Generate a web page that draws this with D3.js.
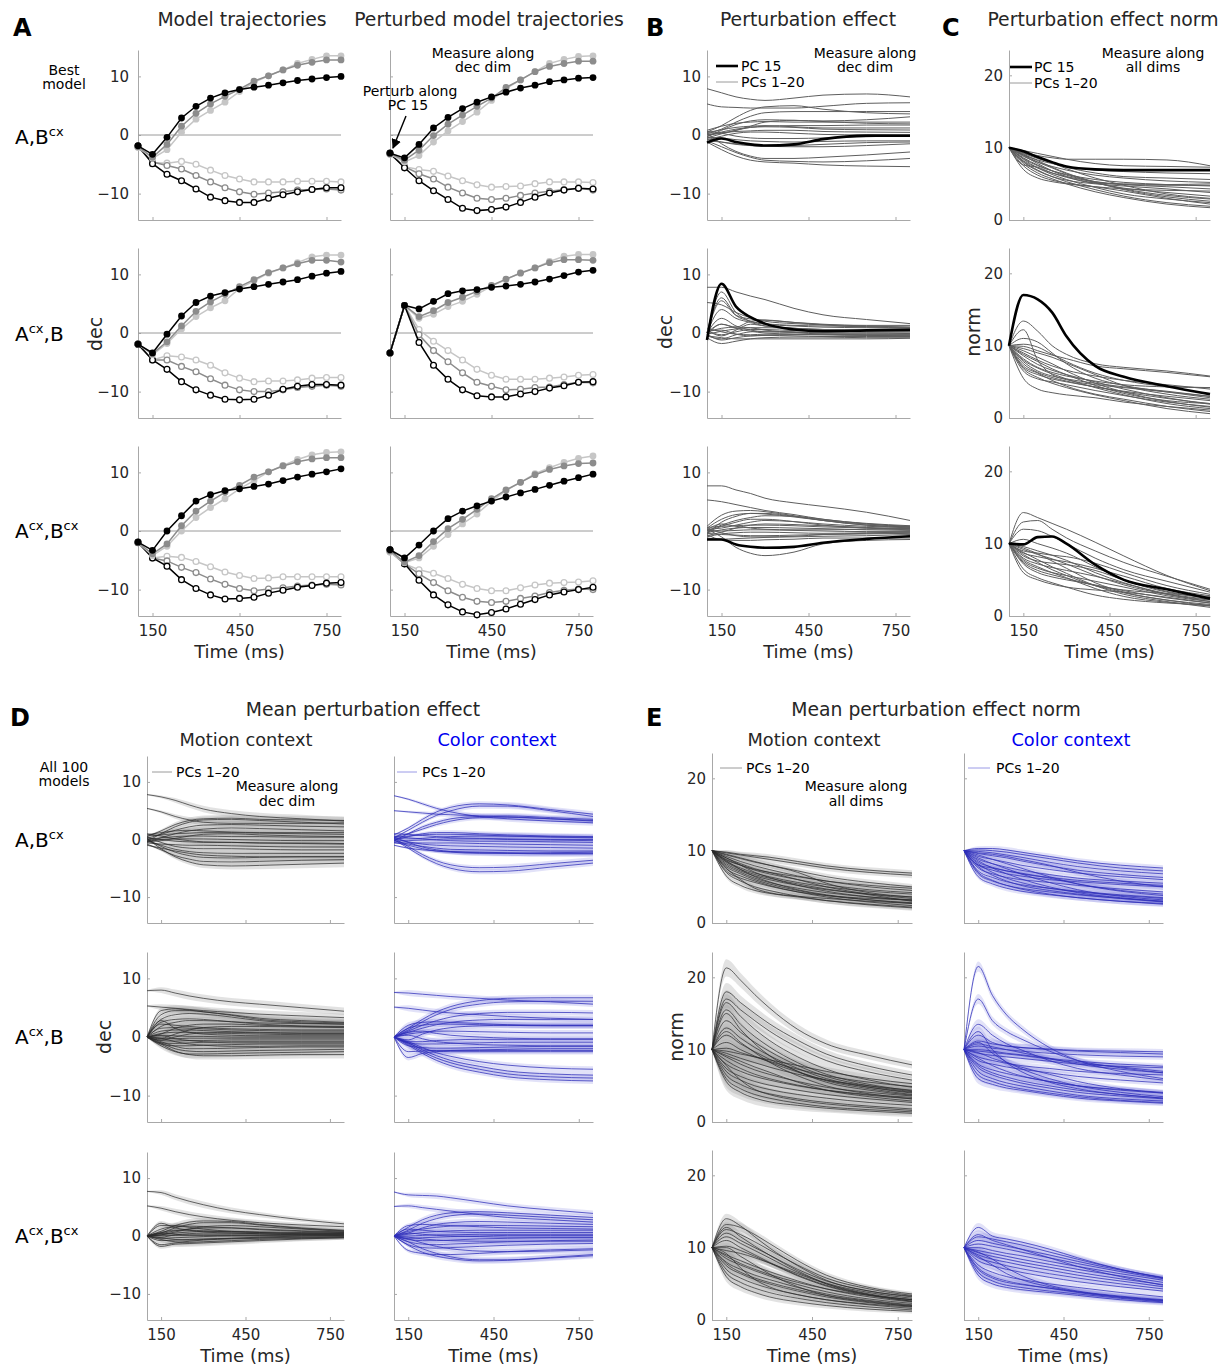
<!DOCTYPE html>
<html>
<head>
<meta charset="utf-8">
<script src="https://cdn.jsdelivr.net/npm/d3@7"></script>
<style>
  body { margin: 0; background: #fff; }
  text { font-family: "DejaVu Sans", sans-serif; }
</style>
</head>
<body>
<script>
// ---------------- data ----------------
const tDots = [100,150,200,250,300,350,400,450,500,550,600,650,700,750,800];
const tEff  = [100,150,200,250,300,400,500,650,800];
const xTicks = [150,450,750];
const decTicks = [-10,0,10];
const normTicks = [0,10,20];
const decRange = [-14.5,14.5];
const normRange = [0,23.5];

// A: order = pos black, pos gray, pos light, neg black, neg gray, neg light
const trajABcx = [
  [-1.85,-3.3,-0.4,2.9,4.9,6.3,7.2,7.75,8.15,8.5,8.9,9.3,9.55,9.8,10.0],
  [-2.0,-3.8,-1.6,1.5,3.7,5.3,6.6,7.8,9.2,10.1,11.1,11.9,12.4,12.8,12.8],
  [-2.1,-4.0,-2.5,0.45,2.7,4.2,5.6,7.4,9.0,10.1,11.1,12.2,12.9,13.5,13.5],
  [-1.85,-4.9,-6.7,-7.8,-9.2,-10.6,-11.2,-11.5,-11.5,-10.8,-10.2,-9.7,-9.3,-9.0,-9.0],
  [-2.0,-4.6,-5.2,-5.8,-6.9,-8.0,-9.0,-9.7,-10.1,-9.9,-9.7,-9.4,-9.3,-9.2,-9.4],
  [-2.1,-4.7,-4.8,-4.5,-5.0,-6.0,-6.9,-7.5,-8.0,-8.0,-8.0,-7.9,-7.9,-7.9,-8.0]
];
const pertABcx = [
  [-3.1,-3.9,-1.6,1.2,3.0,4.5,5.6,6.5,7.3,8.0,8.5,9.1,9.4,9.7,9.8],
  [-3.2,-4.3,-2.6,-0.1,1.85,3.4,4.9,6.3,8.1,9.4,10.8,11.7,12.2,12.6,12.6],
  [-3.3,-4.6,-3.5,-1.2,0.7,2.3,3.9,5.9,7.9,9.4,10.8,12.2,12.9,13.4,13.5],
  [-3.1,-5.6,-7.8,-9.5,-11.0,-12.5,-12.9,-12.7,-12.3,-11.5,-10.6,-9.9,-9.4,-9.1,-9.2],
  [-3.2,-5.4,-6.6,-7.5,-8.9,-9.9,-10.8,-11.0,-10.8,-10.3,-9.9,-9.6,-9.3,-9.1,-9.4],
  [-3.3,-5.4,-5.9,-6.2,-7.0,-7.8,-8.5,-8.9,-8.8,-8.7,-8.3,-8.0,-8.0,-8.0,-8.1]
];
const trajAcxB = [
  [-1.9,-3.4,-0.2,2.9,5.2,6.3,6.9,7.5,7.9,8.3,8.7,9.1,9.7,10.2,10.5],
  [-1.9,-3.5,-1.5,1.2,3.7,5.3,6.6,7.9,9.1,10.3,11.1,11.8,12.4,12.4,12.1],
  [-1.9,-3.7,-1.8,0.7,2.8,4.3,5.5,7.6,8.9,10.2,11.1,12.0,13.0,13.3,13.3],
  [-1.9,-4.6,-6.2,-8.3,-9.7,-10.6,-11.3,-11.4,-11.3,-10.6,-9.6,-9.1,-8.8,-8.8,-8.9],
  [-1.9,-4.6,-4.6,-5.7,-6.6,-7.8,-8.9,-9.7,-10.0,-10.0,-9.7,-9.3,-9.1,-8.9,-9.1],
  [-1.9,-4.6,-3.9,-4.1,-4.6,-5.5,-6.8,-7.7,-8.3,-8.2,-8.2,-8.0,-7.7,-7.6,-7.6]
];
const pertAcxB = [
  [-3.4,4.7,4.1,5.4,6.7,7.2,7.4,7.8,8.0,8.3,8.7,9.2,9.8,10.4,10.7],
  [-3.4,4.7,2.8,3.8,5.2,6.1,7.1,8.1,9.2,10.2,11.1,12.0,12.5,12.5,12.4],
  [-3.4,4.7,2.5,3.2,4.5,5.4,6.6,8.0,9.1,10.3,11.1,12.2,13.1,13.4,13.4],
  [-3.4,4.7,-1.6,-5.5,-7.9,-9.7,-10.7,-10.9,-10.9,-10.4,-10.0,-9.4,-9.0,-8.4,-8.3],
  [-3.4,4.7,-0.3,-3.0,-4.9,-6.8,-8.4,-9.1,-9.7,-9.6,-9.3,-9.2,-8.8,-8.4,-8.5],
  [-3.4,4.7,0.6,-1.4,-3.0,-4.6,-6.2,-7.2,-7.9,-7.9,-7.9,-7.7,-7.5,-7.2,-7.1]
];
const trajAcxBcx = [
  [-1.9,-3.3,0,2.6,5.1,6.2,6.9,7.2,7.6,8.0,8.6,9.2,9.7,10.1,10.6],
  [-2.0,-3.9,-2.2,0.9,3.4,5.1,6.6,7.8,9.2,10.1,11.1,11.8,12.3,12.5,12.5],
  [-2.0,-4.2,-2.6,0,2.3,4.0,5.5,7.2,8.6,10.1,11.2,12.2,13.0,13.4,13.5],
  [-1.9,-4.6,-6.0,-8.3,-9.8,-10.9,-11.6,-11.5,-11.3,-10.6,-10.1,-9.6,-9.3,-8.9,-8.8],
  [-2.0,-4.6,-5.1,-6.2,-7.1,-8.2,-9.1,-9.8,-10.2,-9.9,-9.7,-9.4,-9.2,-9.1,-9.2],
  [-2.0,-4.6,-4.3,-4.5,-5.2,-6.1,-7.0,-7.6,-8.1,-8.0,-7.8,-7.8,-7.8,-7.8,-7.8]
];
const pertAcxBcx = [
  [-3.2,-4.6,-2.4,0,2.1,3.4,4.3,5.1,5.8,6.5,7.1,7.8,8.5,9.1,9.7],
  [-3.4,-5.3,-4.2,-1.8,0.4,2.0,3.7,5.5,7.0,8.3,9.6,10.5,11.1,11.5,11.6],
  [-3.6,-5.4,-4.6,-2.6,-0.6,1.2,2.9,5.1,6.9,8.3,9.8,10.8,11.7,12.4,12.8],
  [-3.2,-5.6,-8.4,-10.9,-12.6,-13.8,-14.3,-13.9,-13.3,-12.5,-11.7,-10.9,-10.4,-10.0,-9.6],
  [-3.4,-5.6,-7.3,-8.8,-10.2,-11.3,-12.0,-12.2,-12.0,-11.5,-11.1,-10.5,-10.1,-9.9,-10.0],
  [-3.6,-5.6,-6.6,-7.2,-8.1,-9.1,-9.8,-10.2,-10.2,-9.7,-9.2,-8.9,-8.8,-8.7,-8.5]
];

// B: perturbation effect along dec dim (thin = other PCs, bold = PC 15), at tEff
const pc15DecABcx = [-1.3,-0.6,-1.2,-1.6,-1.8,-1.6,-0.7,-0.1,-0.1];
const effDecABcx = [
  [7.9,7.2,6.5,6.1,5.9,6.3,6.8,7.0,6.5],[5.3,4.8,4.7,4.6,4.6,4.6,4.9,5.4,5.5],
  [0.5,1.6,3.0,4.2,4.8,5.0,4.4,3.8,3.6],[0.2,1.0,2.2,3.2,3.8,4.0,4.0,4.0,4.0],
  [-0.3,0.8,1.8,2.4,2.6,2.5,2.4,2.6,3.1],[0.8,1.5,2.0,2.2,2.3,2.2,2.2,2.2,2.2],
  [-0.5,0.2,0.8,1.3,1.5,1.6,1.6,1.7,1.7],[0.4,0.9,1.3,1.5,1.6,1.4,1.2,1.2,1.2],
  [-0.2,0.5,1.0,1.3,1.4,1.3,1.0,0.9,0.85],[0.1,0.4,0.6,0.7,0.8,0.8,0.6,0.5,0.45],
  [-0.8,-0.2,0.3,0.5,0.5,0.3,0.1,0,-0.1],[0.6,0.3,-0.2,-0.5,-0.6,-0.6,-0.5,-0.3,-0.1],
  [-0.4,-0.5,-0.8,-1.0,-1.1,-1.2,-1.1,-1.0,-1.0],[-1.0,-1.2,-1.5,-1.8,-1.9,-1.8,-1.6,-1.3,-1.2],
  [-0.6,-1.2,-1.6,-1.8,-1.9,-2.0,-2.0,-1.8,-1.5],[0.3,-1.5,-2.8,-3.6,-4.0,-4.0,-3.8,-3.4,-2.9],
  [-1.0,-2.0,-3.0,-3.8,-4.3,-4.5,-4.6,-4.4,-4.0],[-1.2,-2.5,-3.6,-4.3,-4.6,-4.8,-5.1,-5.3,-5.4],
  [0.0,0.3,0.8,1.5,2.2,2.5,2.3,2.0,1.9]
];
const pc15DecAcxB = [-1.2,8.4,4.5,2.7,1.6,0.6,0.3,0.45,0.55];
const effDecAcxB = [
  [7.8,7.8,7.0,6.3,5.7,4.2,3.1,2.3,1.6],[5.2,4.8,3.5,2.6,2.0,1.6,1.4,1.3,1.3],
  [0,7.0,3.5,2.0,1.5,1.2,1.0,0.9,0.8],[0,6.0,3.0,2.0,1.6,1.3,1.2,1.1,1.0],
  [0,5.5,3.0,2.4,2.2,1.8,1.5,1.2,1.0],[0,4.0,2.5,1.8,1.2,0.8,0.6,0.5,0.4],
  [0,2.5,1.2,0.5,0.2,0.1,0,0,0],[-0.3,1.5,1.0,2.0,2.2,1.8,1.4,1.0,0.9],
  [0.5,-0.5,0.5,1.5,1.2,0.8,0.5,0.4,0.3],[-0.5,-1.0,-0.3,0.2,0.3,0.2,0,0,-0.1],
  [0.3,0.5,-0.2,-0.5,-0.4,-0.3,-0.3,-0.3,-0.3],[-0.8,-1.8,-1.4,-1.0,-0.8,-0.7,-0.7,-0.8,-0.8],
  [-0.2,-1.2,-0.8,-0.5,-0.4,-0.5,-0.6,-0.6,-0.6],[0.8,0.2,-0.2,-0.3,-0.2,-0.2,-0.2,-0.2,-0.2],
  [-0.5,-0.8,-1.0,-1.0,-1.0,-1.0,-1.0,-1.0,-0.9],[0.2,0.8,1.0,0.9,0.5,0.1,-0.2,-0.4,-0.5],
  [0,1.5,0.8,0.3,0,-0.2,-0.3,-0.4,-0.4],[-0.2,0.3,0.7,0.9,0.9,0.8,0.6,0.4,0.3],
  [0.4,-0.3,0.2,0.6,0.6,0.4,0.3,0.2,0.2]
];
const pc15DecAcxBcx = [-1.45,-1.45,-2.3,-2.7,-2.85,-2.7,-2.0,-1.35,-0.9];
const effDecAcxBcx = [
  [7.7,7.7,7.0,6.4,5.6,4.8,4.2,3.2,1.8],[5.3,5.0,4.5,4.0,3.5,2.8,2.0,1.3,0.9],
  [0.3,-1.0,-2.8,-3.8,-4.2,-3.6,-2.2,-1.6,-1.45],[0.8,2.7,3.4,3.5,3.3,2.6,1.8,1.0,0.7],
  [0.5,2.0,2.8,3.0,2.9,2.4,1.8,1.2,0.8],[-0.5,1.5,2.5,3.0,3.0,2.5,1.8,1.0,0.5],
  [0,1.0,1.8,2.3,2.6,2.5,2.0,1.2,0.7],[0.3,0.5,1.0,1.5,1.8,1.6,1.2,0.8,0.6],
  [-0.8,-0.2,0.5,1.0,1.2,1.1,0.9,0.6,0.4],[0.6,0.8,0.9,1.0,1.0,0.9,0.7,0.5,0.3],
  [-0.3,0.2,0.5,0.6,0.6,0.5,0.4,0.2,0.1],[0.1,0,0.1,0.2,0.2,0.1,0,-0.1,-0.1],
  [-1.0,-0.5,-0.3,-0.2,-0.2,-0.3,-0.4,-0.3,-0.2],[-0.4,-0.6,-0.7,-0.8,-0.8,-0.7,-0.6,-0.5,-0.4],
  [-1.2,-1.4,-1.3,-1.2,-1.1,-1.0,-0.9,-0.8,-0.6],[0.4,-0.3,-0.8,-1.0,-1.0,-0.9,-0.6,-0.4,-0.3],
  [-0.6,-1.5,-1.6,-1.6,-1.5,-1.4,-1.2,-1.2,-1.2],[0.2,1.2,0.8,0.5,0.3,0.2,0.2,0.3,0.4],
  [-0.2,0.8,1.5,2.0,2.0,1.6,1.0,0.5,0.2]
];

// C: perturbation effect norm, at tEff
const pc15NormABcx = [10,9.5,8.7,8.0,7.4,7.0,6.9,6.9,6.9];
const effNormABcx = [
  [10,9.4,8.9,8.6,8.4,8.4,8.4,8.3,7.5],[10,9.6,9.2,8.8,8.4,7.8,7.5,7.4,7.3],
  [10,9.0,8.3,7.8,7.4,6.9,6.7,6.5,6.4],[10,9.2,8.5,7.9,7.3,6.5,6.0,5.8,5.6],
  [10,8.8,8.0,7.4,6.9,6.2,5.8,5.4,5.2],[10,8.5,7.5,6.8,6.3,5.6,5.2,4.9,4.7],
  [10,8.2,7.2,6.5,6.0,5.3,4.9,4.6,4.3],[10,8.0,6.8,6.0,5.5,5.0,4.7,4.3,3.8],
  [10,7.6,7.3,6.5,5.9,5.1,4.4,3.8,3.3],[10,8.6,7.6,6.8,6.2,5.2,4.3,3.4,2.9],
  [10,9.0,8.0,7.2,6.4,5.2,4.2,3.2,2.6],[10,8.4,7.2,6.3,5.6,4.5,3.6,2.9,2.4],
  [10,7.5,6.2,5.5,5.1,4.6,4.0,3.0,2.2],[10,8.1,6.9,6.0,5.3,4.2,3.3,2.4,1.9],
  [10,7.8,6.5,5.7,5.0,3.9,3.1,2.2,1.7],[10,9.1,8.2,7.3,6.5,5.3,4.9,4.8,4.8],
  [10,8.9,7.8,6.8,6.0,5.1,5.0,4.9,5.0],[10,7.0,5.8,5.3,5.0,4.6,4.3,4.1,4.0],
  [10,9.3,8.6,7.9,7.1,5.8,4.8,3.6,3.0]
];
const pc15NormAcxB = [10,17.0,16.4,14.6,11.3,7.2,5.7,4.4,3.3];
const effNormAcxB = [
  [10,13.4,12.0,10.0,8.8,7.5,7.0,6.5,5.8],[10,12.2,8.0,6.0,5.3,4.6,4.2,3.6,3.0],
  [10,11.0,10.5,9.0,7.5,5.5,4.5,3.6,2.8],[10,9.9,9.3,8.7,8.2,7.2,6.8,6.3,5.7],
  [10,9.0,8.0,7.2,6.6,5.8,5.2,4.6,4.0],[10,8.2,7.0,6.3,5.8,5.1,4.6,4.3,4.2],
  [10,7.8,6.5,5.8,5.4,4.8,4.3,3.7,3.0],[10,7.5,6.3,5.6,5.1,4.3,3.7,3.0,2.4],
  [10,7.0,6.0,5.4,5.0,4.3,3.6,2.7,2.0],[10,6.5,5.4,5.0,4.6,3.8,3.1,2.2,1.6],
  [10,5.5,4.0,3.5,3.2,2.8,2.2,1.6,1.1],[10,8.6,7.4,6.6,6.0,5.0,4.0,2.8,1.9],
  [10,8.0,6.9,6.1,5.4,4.2,3.2,2.0,1.3],[10,9.3,8.4,7.5,6.5,4.8,3.6,2.3,1.5],
  [10,7.2,6.2,5.2,4.4,3.3,2.6,1.6,0.9],[10,6.8,5.6,4.8,4.2,3.2,2.4,1.3,0.6],
  [10,8.8,7.8,6.8,6.0,4.5,3.4,2.4,2.0],[10,9.6,9.0,8.4,7.6,6.0,4.5,3.3,2.6],
  [10,10.2,9.8,8.8,7.8,6.2,5.2,4.4,4.2]
];
const pc15NormAcxBcx = [10,9.9,10.9,11.0,10.0,7.1,5.0,3.7,2.4];
const effNormAcxBcx = [
  [10,14.3,13.6,12.8,12.0,10.2,8.3,5.6,3.5],[10,13.0,13.2,12.0,10.8,9.0,7.4,5.5,3.7],
  [10,12.0,11.8,11.0,10.0,8.0,6.4,4.8,3.3],[10,9.0,8.7,8.4,8.2,7.3,6.0,4.2,3.0],
  [10,8.7,8.2,7.8,7.5,6.6,5.5,3.8,2.8],[10,8.3,7.6,7.3,7.1,6.3,5.0,3.4,2.5],
  [10,8.0,7.2,6.7,6.3,5.5,4.5,3.0,2.2],[10,7.6,6.6,6.0,5.6,4.8,4.0,2.8,2.0],
  [10,7.2,6.0,5.4,5.0,4.3,3.5,2.5,1.8],[10,6.0,5.0,4.4,4.0,3.6,3.3,2.6,1.8],
  [10,6.5,5.3,4.6,4.0,2.9,2.3,1.8,1.5],[10,7.8,6.8,6.0,5.3,3.8,2.7,1.9,1.4],
  [10,8.8,7.8,6.8,5.9,4.2,3.0,2.0,1.2],[10,9.4,8.6,7.6,6.6,4.6,3.3,2.2,1.4],
  [10,9.6,9.0,8.4,7.7,6.0,4.6,3.1,2.3],[10,9.2,8.5,7.9,7.2,5.6,4.3,3.0,2.0],
  [10,8.5,7.4,6.4,5.6,4.2,3.6,3.1,2.7],[10,7.4,6.3,5.7,5.2,4.2,3.2,2.2,1.6],
  [10,10.6,10.0,9.4,8.7,6.8,5.0,3.3,2.5]
];

// D: mean perturbation effect (all 100 models), dec dim, with band half-widths
const meanDecMotion1 = [
  [7.8,7.4,6.8,6.0,5.3,4.5,4.0,3.6,3.2],[5.4,4.8,4.0,3.4,3.0,2.8,2.8,2.8,2.9],
  [0.5,1.5,2.6,3.3,3.6,3.7,3.5,3.4,3.3],[-0.3,1.0,2.2,3.0,3.4,3.5,3.3,3.0,2.7],
  [0.2,0.9,1.6,2.2,2.5,2.6,2.5,2.3,2.2],[-0.5,0.3,1.0,1.5,1.8,2.0,1.9,1.7,1.5],
  [0.6,0.8,1.0,1.1,1.2,1.2,1.1,1.0,0.9],[0,0.3,0.5,0.6,0.6,0.5,0.5,0.4,0.4],
  [-0.2,0,0.1,0.1,0.1,0,-0.1,-0.2,-0.2],[0.3,0,-0.3,-0.4,-0.5,-0.5,-0.6,-0.6,-0.7],
  [-0.6,-0.8,-0.9,-1.0,-1.0,-1.1,-1.2,-1.3,-1.3],[0.4,-0.5,-1.2,-1.5,-1.6,-1.6,-1.7,-1.8,-1.8],
  [-0.3,-1.0,-1.7,-2.1,-2.3,-2.4,-2.4,-2.4,-2.4],[0.1,-1.2,-2.2,-2.8,-3.1,-3.2,-3.1,-3.0,-3.0],
  [-0.8,-1.8,-2.8,-3.4,-3.8,-3.9,-3.8,-3.6,-3.5],[0.2,-1.6,-3.0,-3.9,-4.4,-4.6,-4.5,-4.3,-4.1],
  [-1.0,-1.5,-2.0,-2.4,-2.7,-2.9,-3.0,-3.0,-3.0],[0.8,1.2,1.5,1.6,1.5,1.3,1.2,1.2,1.2],
  [-0.4,-0.2,0.2,0.6,0.9,1.0,0.8,0.6,0.5],[1.0,0.6,0.1,-0.2,-0.4,-0.5,-0.6,-0.7,-0.8]
];
const bandDecMotion1 = [0.1,0.25,0.4,0.5,0.55,0.6,0.65,0.7,0.7];
const meanDecColor1 = [
  [7.6,7.0,6.2,5.4,4.8,4.0,3.6,3.2,2.9],[5.0,4.8,4.6,4.4,4.3,4.1,3.9,3.6,3.3],
  [0.8,2.0,3.5,4.8,5.6,6.2,6.0,5.2,4.4],[0.3,1.6,3.0,4.2,5.0,5.8,5.8,5.0,4.0],
  [-0.2,1.0,2.2,3.0,3.6,4.0,4.1,3.8,3.5],[0.5,1.0,1.8,2.6,3.2,3.8,3.9,3.6,3.2],
  [0.2,0.1,0.2,0.4,0.5,0.6,0.6,0.5,0.4],[-0.3,-0.2,-0.1,0,0.1,0.1,0,-0.1,-0.2],
  [0.6,0.3,0.1,-0.1,-0.2,-0.3,-0.3,-0.4,-0.5],[-0.6,-0.6,-0.6,-0.6,-0.6,-0.7,-0.8,-0.9,-1.0],
  [0.1,-0.4,-0.8,-1.0,-1.1,-1.2,-1.3,-1.4,-1.5],[-0.2,-0.8,-1.2,-1.5,-1.7,-1.8,-1.9,-2.0,-2.0],
  [0.4,-0.5,-1.3,-1.8,-2.1,-2.3,-2.4,-2.5,-2.5],[-1.0,-1.5,-1.8,-2.0,-2.1,-2.2,-2.3,-2.4,-2.4],
  [0.3,0.6,0.8,0.9,0.9,0.8,0.6,0.4,0.3],[0,-1.5,-3.0,-4.2,-5.0,-5.6,-5.5,-4.8,-4.1],
  [0.2,-1.2,-2.6,-3.7,-4.4,-4.9,-4.8,-4.2,-3.6],[-0.5,-1.0,-1.6,-2.0,-2.2,-2.4,-2.4,-2.3,-2.2],
  [1.0,0.9,0.7,0.5,0.3,0.2,0.1,0,0],[-0.1,0.5,1.0,1.2,1.2,1.0,0.8,0.6,0.5]
];
const bandDecColor1 = [0.1,0.2,0.3,0.35,0.4,0.45,0.5,0.5,0.5];
const meanDecMotion2 = [
  [7.9,8.0,7.5,7.0,6.6,6.0,5.6,5.0,4.4],[5.3,5.1,4.9,4.7,4.5,4.2,3.9,3.6,3.3],
  [0,4.5,4.8,4.6,4.3,3.8,3.2,2.8,2.5],[0,3.8,4.5,4.5,4.3,3.7,3.0,2.6,2.4],
  [0,3.0,3.8,4.0,3.9,3.4,2.8,2.4,2.2],[0,2.5,3.0,3.1,3.0,2.6,2.2,1.9,1.8],
  [0,1.8,2.5,2.8,2.8,2.6,2.4,2.3,2.2],[0,2.2,2.0,1.8,1.6,1.4,1.3,1.2,1.2],
  [0,1.5,1.6,1.5,1.4,1.2,1.1,1.0,1.0],[0,1.0,1.2,1.2,1.1,0.9,0.8,0.7,0.7],
  [0,0.6,0.8,0.8,0.7,0.6,0.5,0.4,0.4],[0,0.3,0.2,0.1,0.1,0,0,0,0],
  [0,-0.3,-0.3,-0.2,-0.2,-0.2,-0.2,-0.2,-0.2],[0,-0.6,-0.7,-0.6,-0.6,-0.5,-0.5,-0.5,-0.5],
  [0,-1.0,-1.1,-1.0,-0.9,-0.8,-0.8,-0.8,-0.8],[0,-1.2,-1.5,-1.5,-1.4,-1.3,-1.2,-1.2,-1.2],
  [0,-0.8,-1.6,-2.0,-2.0,-1.9,-1.8,-1.7,-1.7],[0,-1.0,-2.0,-2.4,-2.5,-2.4,-2.3,-2.2,-2.1],
  [0,-1.2,-2.4,-3.0,-3.2,-3.2,-3.1,-3.0,-3.0],[0,-1.5,-2.5,-2.9,-2.9,-2.8,-2.7,-2.6,-2.5],
  [0,2.8,1.5,0.8,0.5,0.3,0.2,0.2,0.2],[0,-0.2,0.5,1.2,1.6,1.8,1.8,1.7,1.6],
  [0,0.5,1.5,2.0,2.2,2.2,2.0,1.8,1.7],[0,-0.5,0,0.5,0.7,0.8,0.7,0.6,0.6],
  [0,0.2,-0.3,-0.6,-0.8,-1.0,-1.0,-1.0,-1.0],[0,-0.2,-0.8,-1.2,-1.4,-1.6,-1.6,-1.5,-1.5]
];
const bandDecMotion2 = [0.1,0.5,0.6,0.65,0.65,0.65,0.65,0.65,0.65];
const meanDecColor2 = [
  [7.6,7.5,7.3,7.1,6.9,6.6,6.3,6.0,5.6],[0,1.5,3.0,4.3,5.2,6.2,6.6,6.7,6.7],
  [5.1,4.9,4.6,4.3,4.1,3.8,3.5,3.2,3.0],[0,1.2,2.6,3.8,4.7,5.6,6.0,6.1,6.1],
  [0,1.0,2.0,2.8,3.4,4.0,4.2,4.2,4.1],[0,0.8,1.5,2.1,2.5,2.9,3.0,3.0,3.0],
  [0,2.0,2.5,2.6,2.5,2.3,2.1,2.0,2.0],[0,1.5,2.0,2.2,2.2,2.1,2.0,1.9,1.9],
  [0,-0.5,0.5,1.2,1.6,1.9,2.0,2.0,2.0],[0,0.5,0.8,1.0,1.0,0.9,0.8,0.7,0.7],
  [0,-0.8,-0.8,-0.6,-0.5,-0.4,-0.4,-0.4,-0.4],[0,-1.0,-1.2,-1.2,-1.1,-1.0,-0.9,-0.9,-0.9],
  [0,-1.5,-1.8,-1.9,-1.9,-1.8,-1.7,-1.6,-1.6],[0,-2.5,-2.4,-2.3,-2.3,-2.3,-2.3,-2.3,-2.3],
  [0,-1.0,-2.0,-2.4,-2.5,-2.5,-2.5,-2.5,-2.5],[0,-3.5,-2.8,-2.5,-2.3,-2.2,-2.1,-2.0,-2.0],
  [0,-1.0,-2.2,-3.2,-4.0,-5.0,-5.8,-6.3,-6.5],[0,-1.2,-2.5,-3.6,-4.4,-5.5,-6.3,-6.8,-7.0],
  [0,-1.4,-2.8,-4.0,-4.9,-6.0,-6.8,-7.3,-7.5],[0,-0.8,-1.8,-2.7,-3.3,-4.2,-4.8,-5.3,-5.5],
  [0,0.3,-0.3,-0.8,-1.0,-1.3,-1.4,-1.5,-1.5],[0,0.8,1.0,0.6,0.3,0,-0.2,-0.3,-0.3]
];
const bandDecColor2 = [0.1,0.5,0.5,0.5,0.5,0.5,0.5,0.5,0.5];
const meanDecMotion3 = [
  [7.7,7.5,6.7,6.0,5.4,4.4,3.7,2.8,2.1],[5.2,4.8,4.2,3.7,3.3,2.7,2.3,1.9,1.6],
  [0,0.8,1.8,2.4,2.6,2.5,2.0,1.4,1.0],[0,0.5,1.4,2.0,2.3,2.3,1.9,1.3,0.9],
  [0,1.2,1.6,1.7,1.6,1.4,1.1,0.8,0.6],[0,0.4,0.9,1.2,1.4,1.4,1.2,0.9,0.7],
  [0,0.2,0.5,0.7,0.8,0.8,0.7,0.6,0.5],[0,-0.2,0.2,0.4,0.5,0.5,0.4,0.3,0.3],
  [0,0.1,0.1,0.1,0.1,0.1,0.1,0.1,0.1],[0,-0.4,-0.3,-0.2,-0.1,0,0,0,0],
  [0,-0.8,-0.7,-0.6,-0.5,-0.4,-0.3,-0.2,-0.1],[0,-1.5,-1.2,-0.9,-0.7,-0.5,-0.4,-0.3,-0.2],
  [0,-1.8,-1.4,-1.3,-1.2,-1.0,-0.8,-0.5,-0.3],[0,-0.6,-1.0,-1.1,-1.0,-0.8,-0.6,-0.4,-0.3],
  [0,0.6,1.0,1.0,0.9,0.7,0.6,0.5,0.5],[0,1.8,1.8,1.5,1.2,0.8,0.6,0.4,0.4],
  [0,0.2,0.7,1.2,1.6,1.8,1.6,1.2,0.8],[0,-0.3,-0.6,-0.7,-0.6,-0.4,-0.2,0,0.1],
  [0,2.2,1.4,1.0,0.7,0.5,0.4,0.3,0.3],[0,0.5,0.3,0.2,0.2,0.2,0.2,0.3,0.3]
];
const bandDecMotion3 = [0.1,0.4,0.5,0.55,0.55,0.5,0.45,0.4,0.35];
const meanDecColor3 = [
  [7.6,7.1,7.0,6.9,6.6,5.9,5.2,4.5,3.9],[5.1,5.2,4.9,4.6,4.3,3.7,3.2,2.8,2.4],
  [0,1.5,2.8,3.6,4.0,4.2,4.0,3.6,3.2],[0,1.0,2.2,3.0,3.5,3.8,3.6,3.2,2.8],
  [0,0.5,1.4,2.0,2.3,2.5,2.4,2.2,2.0],[0,0.8,1.2,1.5,1.7,1.8,1.8,1.7,1.6],
  [0,1.8,2.0,1.9,1.8,1.6,1.4,1.3,1.2],[0,0.3,0.6,0.8,0.9,1.0,1.0,1.0,1.0],
  [0,0,0.1,0.2,0.2,0.3,0.3,0.3,0.3],[0,-0.4,-0.3,-0.2,-0.1,0,0.1,0.1,0.1],
  [0,-0.6,-0.8,-0.8,-0.7,-0.5,-0.4,-0.3,-0.3],[0,-1.0,-1.4,-1.5,-1.4,-1.2,-1.0,-0.8,-0.7],
  [0,-1.5,-2.0,-2.1,-2.0,-1.8,-1.6,-1.4,-1.3],[0,-1.0,-2.2,-3.0,-3.6,-4.1,-4.1,-3.7,-3.2],
  [0,-1.6,-2.8,-3.5,-3.9,-4.3,-4.2,-3.8,-3.4],[0,-2.5,-3.0,-3.2,-3.2,-3.0,-2.7,-2.4,-2.2],
  [0,-0.5,-1.2,-1.8,-2.2,-2.6,-2.7,-2.6,-2.4],[0,0.5,0.3,0.1,0,-0.1,-0.2,-0.2,-0.2],
  [0,1.2,1.0,0.8,0.7,0.6,0.6,0.6,0.6],[0,-0.2,-0.5,-0.7,-0.8,-0.9,-0.9,-0.9,-0.9]
];
const bandDecColor3 = [0.1,0.35,0.45,0.5,0.5,0.5,0.5,0.5,0.5];

// E: mean perturbation effect norm (all dims)
const meanNormMotion1 = [
  [10,9.8,9.5,9.3,9.1,8.5,7.9,7.3,6.9],[10,9.7,9.4,9.1,8.8,8.2,7.6,7.0,6.6],
  [10,9.4,8.9,8.4,8.0,7.2,6.4,5.6,5.0],[10,9.2,8.5,7.9,7.4,6.5,5.8,5.0,4.5],
  [10,8.8,8.0,7.3,6.8,6.0,5.3,4.6,4.2],[10,8.5,7.6,6.9,6.4,5.6,5.0,4.4,4.0],
  [10,8.2,7.2,6.5,6.0,5.2,4.6,4.0,3.6],[10,8.0,7.0,6.2,5.6,4.8,4.2,3.6,3.2],
  [10,7.8,6.8,6.0,5.4,4.5,3.8,3.2,2.8],[10,7.5,6.5,5.8,5.2,4.3,3.6,2.9,2.4],
  [10,7.0,5.8,5.0,4.5,3.7,3.1,2.5,2.1],[10,6.5,5.2,4.5,4.1,3.6,3.1,2.6,2.2],
  [10,7.6,6.0,4.8,4.2,3.7,3.4,3.0,2.7],[10,9.0,8.2,7.5,7.0,6.0,5.0,4.0,3.4],
  [10,8.7,8.0,7.4,7.0,6.4,5.8,5.2,4.8],[10,9.5,9.0,8.5,8.0,7.0,5.5,4.2,3.6],
  [10,8.4,7.4,6.7,6.2,5.4,4.7,3.9,3.0],[10,9.0,8.0,7.0,6.3,5.2,4.4,3.6,3.1],
  [10,8.6,7.4,6.4,5.7,4.6,3.9,3.2,2.7],[10,7.2,6.2,5.6,5.1,4.3,3.8,3.4,3.2]
];
const bandNormMotion1 = [0,0.3,0.35,0.4,0.4,0.4,0.4,0.4,0.4];
const meanNormColor1 = [
  [10,10.3,10.3,10.1,9.8,9.2,8.6,8.0,7.6],[10,10.1,10.0,9.8,9.5,8.9,8.3,7.6,7.2],
  [10,9.9,9.7,9.4,9.1,8.4,7.8,7.2,6.8],[10,9.6,9.3,9.0,8.6,7.9,7.3,6.7,6.3],
  [10,9.2,8.8,8.4,8.0,7.4,6.9,6.4,6.0],[10,8.8,8.2,7.7,7.3,6.7,6.2,5.8,5.5],
  [10,8.4,7.7,7.2,6.8,6.3,5.9,5.5,5.2],[10,8.0,7.3,6.8,6.5,6.0,5.7,5.3,5.0],
  [10,7.6,6.8,6.3,6.0,5.6,5.2,4.7,4.3],[10,7.2,6.3,5.7,5.3,4.8,4.4,3.9,3.5],
  [10,6.8,5.8,5.2,4.8,4.3,3.9,3.4,3.0],[10,6.4,5.4,4.8,4.4,3.9,3.5,3.0,2.7],
  [10,7.0,5.9,5.2,4.7,4.0,3.5,3.0,2.6],[10,8.6,7.6,6.8,6.1,5.0,4.2,3.5,3.0],
  [10,9.0,8.2,7.5,6.8,5.6,4.6,3.7,3.2],[10,9.4,8.8,8.2,7.6,6.4,5.4,4.4,3.8],
  [10,7.8,6.6,5.8,5.2,4.5,4.0,3.4,2.9],[10,8.2,7.0,6.2,5.6,4.8,4.3,3.8,3.4],
  [10,9.7,9.5,9.2,8.8,8.0,7.0,5.8,5.0],[10,8.0,7.6,7.2,6.9,6.2,5.4,4.5,4.0]
];
const bandNormColor1 = [0,0.3,0.35,0.4,0.4,0.4,0.4,0.4,0.4];
const meanNormMotion2 = [
  [10,21.3,19.6,17.6,15.8,12.8,10.8,9.2,7.9],[10,18.0,16.5,15.0,13.6,11.3,9.4,7.7,6.5],
  [10,17.0,15.5,14.0,12.6,10.3,8.5,6.9,5.8],[10,16.5,14.6,12.8,11.3,9.0,7.3,5.8,4.8],
  [10,15.5,13.5,11.8,10.4,8.2,6.6,5.2,4.3],[10,14.0,12.4,11.0,9.8,7.8,6.3,5.0,4.2],
  [10,13.0,11.6,10.3,9.2,7.4,6.0,4.8,4.0],[10,12.0,10.8,9.7,8.7,7.0,5.7,4.6,3.8],
  [10,11.0,10.0,9.1,8.3,6.9,5.8,4.8,4.1],[10,10.2,9.6,9.0,8.4,7.3,6.4,5.5,4.9],
  [10,9.8,9.4,9.0,8.6,7.8,7.0,6.0,5.3],[10,9.5,8.8,8.2,7.6,6.6,5.8,5.0,4.4],
  [10,9.0,8.0,7.2,6.6,5.6,4.8,4.1,3.6],[10,8.5,7.4,6.6,6.0,5.1,4.4,3.7,3.2],
  [10,8.0,7.0,6.3,5.8,5.0,4.4,3.8,3.4],[10,7.4,6.3,5.6,5.1,4.4,3.8,3.2,2.7],
  [10,7.0,5.8,5.0,4.5,3.8,3.3,2.7,2.3],[10,6.5,5.2,4.4,3.9,3.2,2.7,2.2,1.8],
  [10,6.0,4.6,3.8,3.3,2.6,2.1,1.7,1.4],[10,5.6,4.1,3.3,2.8,2.3,1.9,1.5,1.2],
  [10,7.8,5.8,4.5,3.8,3.0,2.5,2.0,1.6],[10,9.2,8.4,7.6,6.9,5.5,4.4,3.5,2.9],
  [10,12.5,11.0,9.6,8.3,6.4,5.0,3.9,3.2],[10,15.0,12.8,10.8,9.2,7.0,5.5,4.4,3.7]
];
const bandNormMotion2 = [0,1.2,1.0,0.9,0.8,0.7,0.6,0.55,0.5];
const meanNormColor2 = [
  [10,21.5,17.5,14.8,13.0,10.3,8.5,7.0,6.0],[10,17.0,14.0,12.5,11.5,9.8,8.5,7.5,6.8],
  [10,13.5,12.0,10.8,10.0,8.5,7.4,6.5,5.8],[10,12.0,11.0,10.5,10.3,10.0,9.8,9.6,9.4],
  [10,11.2,10.8,10.5,10.3,10.1,9.9,9.8,9.7],[10,10.5,10.2,10.0,9.8,9.5,9.3,9.1,9.0],
  [10,10.0,9.8,9.5,9.3,8.8,8.4,8.0,7.7],[10,9.5,9.2,9.0,8.8,8.4,8.0,7.7,7.5],
  [10,9.0,8.5,8.1,7.8,7.4,7.0,6.7,6.5],[10,8.5,8.0,7.6,7.3,6.8,6.3,5.8,5.4],
  [10,8.0,7.2,6.7,6.3,5.6,5.0,4.5,4.1],[10,7.5,6.5,5.9,5.4,4.7,4.1,3.6,3.2],
  [10,7.0,6.0,5.4,5.0,4.3,3.7,3.2,2.9],[10,6.5,5.6,5.0,4.6,4.0,3.5,3.0,2.7],
  [10,6.0,5.2,4.7,4.4,3.8,3.3,2.9,2.6],[10,11.0,9.5,8.3,7.4,6.0,5.0,4.1,3.5],
  [10,12.5,10.0,8.2,7.0,5.5,4.6,3.8,3.3],[10,9.6,8.8,8.2,7.6,6.6,5.6,4.6,4.0],
  [10,8.8,7.8,7.0,6.4,5.6,5.0,4.4,4.0],[10,9.8,9.6,9.4,9.2,8.7,8.2,7.6,7.0],
  [10,10.8,10.4,10.0,9.6,8.8,8.0,7.3,6.8],[10,7.8,6.8,6.2,5.7,5.0,4.4,3.8,3.3]
];
const bandNormColor2 = [0,0.7,0.6,0.5,0.5,0.45,0.4,0.4,0.4];
const meanNormMotion3 = [
  [10,14.0,13.0,11.5,10.0,7.5,5.5,4.0,3.3],[10,13.2,12.8,11.8,10.6,8.2,6.2,4.5,3.6],
  [10,12.5,11.8,10.8,9.7,7.6,5.8,4.3,3.4],[10,12.0,11.0,10.0,9.0,7.0,5.4,4.0,3.2],
  [10,11.5,10.6,9.6,8.6,6.6,5.1,3.8,3.0],[10,11.0,10.0,9.0,8.0,6.2,4.8,3.5,2.8],
  [10,10.2,9.6,8.8,7.9,6.1,4.7,3.4,2.6],[10,9.6,9.2,8.6,7.9,6.4,5.0,3.6,2.8],
  [10,9.0,8.2,7.4,6.7,5.4,4.3,3.2,2.5],[10,8.5,7.6,6.8,6.1,4.9,3.9,2.9,2.3],
  [10,8.0,7.0,6.2,5.6,4.5,3.6,2.7,2.1],[10,7.5,6.4,5.6,5.0,4.0,3.2,2.4,1.9],
  [10,7.0,5.8,5.0,4.4,3.5,2.8,2.1,1.6],[10,6.5,5.2,4.4,3.8,3.0,2.4,1.8,1.4],
  [10,6.0,4.6,3.8,3.2,2.5,2.0,1.5,1.2],[10,9.2,7.2,5.6,4.6,3.5,2.8,2.2,1.8],
  [10,10.0,8.8,7.6,6.4,4.6,3.4,2.5,1.9],[10,12.8,11.5,10.2,9.0,6.8,5.0,3.5,2.6],
  [10,8.8,7.8,7.0,6.3,5.2,4.3,3.4,2.8],[10,7.8,6.6,5.8,5.2,4.2,3.4,2.6,2.0]
];
const bandNormMotion3 = [0,0.7,0.6,0.55,0.5,0.45,0.4,0.35,0.3];
const meanNormColor3 = [
  [10,12.8,11.6,11.2,10.8,9.8,8.6,7.0,5.8],[10,11.5,11.2,10.8,10.4,9.4,8.4,7.0,5.8],
  [10,11.0,10.6,10.2,9.8,9.0,8.1,6.9,5.9],[10,10.5,10.2,9.8,9.4,8.6,7.8,6.7,5.7],
  [10,10.0,9.6,9.2,8.9,8.1,7.4,6.4,5.5],[10,9.6,9.2,8.8,8.4,7.7,7.0,6.1,5.2],
  [10,9.3,8.8,8.4,8.0,7.3,6.6,5.7,4.9],[10,9.0,8.4,8.0,7.6,6.9,6.2,5.4,4.6],
  [10,8.6,8.0,7.5,7.1,6.4,5.8,5.0,4.3],[10,8.2,7.5,7.0,6.6,5.9,5.3,4.6,4.0],
  [10,7.6,6.6,6.0,5.6,5.0,4.5,3.8,3.2],[10,7.0,5.8,5.2,4.9,4.4,3.9,3.2,2.7],
  [10,6.6,5.4,4.8,4.5,4.0,3.6,3.0,2.5],[10,6.2,5.0,4.5,4.2,3.8,3.4,2.8,2.4],
  [10,7.2,6.0,5.4,5.0,4.4,3.8,3.1,2.6],[10,9.4,8.4,7.2,6.2,4.8,4.0,3.3,2.8],
  [10,8.8,7.6,6.4,5.6,4.6,3.9,3.2,2.7],[10,11.8,11.0,10.4,9.8,8.6,7.4,6.0,4.8]
];
const bandNormColor3 = [0,0.6,0.55,0.5,0.5,0.45,0.45,0.4,0.4];

// ---------------- drawing ----------------
const W = 1228, H = 1365;
const AX = "#a8a8a8", TXT = "#262626";
const svg = d3.select("body").append("svg").attr("width", W).attr("height", H);

const fmt = d => d < 0 ? "\u2212" + (-d) : String(d);

// sets up one axes box and returns its scales
function frame(x0, x1, y0, h, yDom, yTicks, opt) {
  const x = d3.scaleLinear().domain([100, 800]).range([x0, x1]);
  const y = d3.scaleLinear().domain(yDom).range([y0 + h, y0]);
  const g = svg.append("g");
  g.append("g").attr("transform", `translate(${x0},0)`)
    .call(d3.axisLeft(y).tickValues(yTicks).tickSize(-3).tickSizeOuter(0)
      .tickPadding(opt.pad || 6).tickFormat(opt.yLabels ? fmt : ""));
  g.append("g").attr("transform", `translate(0,${y0 + h})`)
    .call(d3.axisBottom(x).tickValues(xTicks).tickSize(-3).tickSizeOuter(0)
      .tickPadding(9).tickFormat(opt.xLabels ? d3.format("d") : ""));
  g.selectAll(".domain").attr("stroke", AX);
  g.selectAll(".tick line").attr("stroke", AX);
  g.selectAll(".tick text").attr("fill", TXT).attr("font-size", 15)
    .attr("font-family", "DejaVu Sans");
  if (opt.xLabels) {
    svg.append("text").attr("x", (x0 + x1) / 2).attr("y", y0 + h + 42)
      .attr("text-anchor", "middle").attr("font-size", 18).attr("fill", TXT)
      .text("Time (ms)");
  }
  if (opt.zero) {
    g.append("line").attr("x1", x0).attr("x2", x1).attr("y1", y(0)).attr("y2", y(0))
      .attr("stroke", "#9a9a9a").attr("stroke-width", 1);
  }
  const plot = svg.append("g");
  return { x, y, plot };
}

// panel A: trajectories with dots
const trajColors = ["#000000", "#8c8c8c", "#c6c6c6"];
function trajPanel(f, set) {
  const line = d3.line().x((d, i) => f.x(tDots[i])).y(d => f.y(d));
  const order = [5, 4, 3, 2, 1, 0];
  order.forEach(k => {
    const col = trajColors[k % 3];
    const neg = k >= 3;
    f.plot.append("path").attr("d", line(set[k])).attr("fill", "none")
      .attr("stroke", col).attr("stroke-width", 1.5);
    f.plot.selectAll(null).data(set[k]).enter().append("circle")
      .attr("cx", (d, i) => f.x(tDots[i])).attr("cy", d => f.y(d))
      .attr("r", neg ? 2.9 : 3.4)
      .attr("fill", neg ? "#fff" : col)
      .attr("stroke", col).attr("stroke-width", neg ? 1.3 : 0);
  });
}

// panels B, C: per-PC effect lines
function effPanel(f, thin, bold) {
  const line = d3.line().x((d, i) => f.x(tEff[i])).y(d => f.y(d)).curve(d3.curveMonotoneX);
  thin.forEach(s => f.plot.append("path").attr("d", line(s)).attr("fill", "none")
    .attr("stroke", "#5e5e5e").attr("stroke-width", 1));
  f.plot.append("path").attr("d", line(bold)).attr("fill", "none")
    .attr("stroke", "#000").attr("stroke-width", 2.6);
}

// panels D, E: mean lines with shaded bands
function meanPanel(f, set, band, blue) {
  const line = d3.line().x((d, i) => f.x(tEff[i])).y(d => f.y(d)).curve(d3.curveMonotoneX);
  const area = d3.area().x((d, i) => f.x(tEff[i]))
    .y0((d, i) => f.y(d - band[i])).y1((d, i) => f.y(d + band[i])).curve(d3.curveMonotoneX);
  set.forEach(s => f.plot.append("path").attr("d", area(s))
    .attr("fill", blue ? "#7b7be0" : "#a0a0a0").attr("fill-opacity", blue ? 0.22 : 0.3));
  set.forEach(s => f.plot.append("path").attr("d", line(s)).attr("fill", "none")
    .attr("stroke", blue ? "#2e2eb8" : "#2a2a2a").attr("stroke-opacity", blue ? 0.75 : 0.7)
    .attr("stroke-width", 1));
}

function txt(x, y, s, o = {}) {
  return svg.append("text").attr("x", x).attr("y", y).attr("text-anchor", o.anchor || "middle")
    .attr("font-size", o.size || 14).attr("fill", o.fill || "#000")
    .attr("font-weight", o.bold ? "bold" : null)
    .attr("font-family", o.family || "DejaVu Sans").text(s);
}

function rowLabel(x, y, parts) {
  const t = svg.append("text").attr("x", x).attr("y", y).attr("font-size", 20).attr("fill", "#000");
  let prevSup = false;
  parts.forEach(([s, sup]) => {
    t.append("tspan").attr("dy", sup ? -8 : (prevSup ? 8 : 0))
      .attr("font-size", sup ? 13 : 20).text(s);
    prevSup = sup;
  });
}

function yLabel(x, y, s) {
  svg.append("text").attr("transform", `translate(${x},${y}) rotate(-90)`)
    .attr("text-anchor", "middle").attr("font-size", 19).attr("fill", TXT).text(s);
}

function legendLine(x1, x2, y, col, w) {
  svg.append("line").attr("x1", x1).attr("x2", x2).attr("y1", y).attr("y2", y)
    .attr("stroke", col).attr("stroke-width", w);
}

// ---- top block: A, B, C
const topRows = [50, 248, 446];
const topH = 170;
const trajSets = [trajABcx, trajAcxB, trajAcxBcx];
const pertSets = [pertABcx, pertAcxB, pertAcxBcx];
const effDec = [[effDecABcx, pc15DecABcx], [effDecAcxB, pc15DecAcxB], [effDecAcxBcx, pc15DecAcxBcx]];
const effNorm = [[effNormABcx, pc15NormABcx], [effNormAcxB, pc15NormAcxB], [effNormAcxBcx, pc15NormAcxBcx]];

topRows.forEach((y0, r) => {
  const last = r === 2;
  const fa = frame(138, 341, y0, topH, decRange, decTicks, { yLabels: true, xLabels: last, pad: 9, zero: true });
  trajPanel(fa, trajSets[r]);
  const fb = frame(390, 593, y0, topH, decRange, decTicks, { yLabels: false, xLabels: last, zero: true });
  trajPanel(fb, pertSets[r]);
  const fc = frame(707, 910, y0, topH, decRange, decTicks, { yLabels: true, xLabels: last });
  effPanel(fc, effDec[r][0], effDec[r][1]);
  const fd = frame(1009, 1210, y0, topH, normRange, normTicks, { yLabels: true, xLabels: last });
  effPanel(fd, effNorm[r][0], effNorm[r][1]);
});

// ---- bottom block: D, E
const botRows = [[756, 167], [952, 170], [1152, 168]];
const decMotion = [meanDecMotion1, meanDecMotion2, meanDecMotion3];
const decColor = [meanDecColor1, meanDecColor2, meanDecColor3];
const decBandM = [bandDecMotion1, bandDecMotion2, bandDecMotion3];
const decBandC = [bandDecColor1, bandDecColor2, bandDecColor3];
const normMotion = [meanNormMotion1, meanNormMotion2, meanNormMotion3];
const normColor = [meanNormColor1, meanNormColor2, meanNormColor3];
const normBandM = [bandNormMotion1, bandNormMotion2, bandNormMotion3];
const normBandC = [bandNormColor1, bandNormColor2, bandNormColor3];

botRows.forEach(([y0, h], r) => {
  const last = r === 2;
  const f1 = frame(147, 344, y0, h, decRange, decTicks, { yLabels: true, xLabels: last });
  meanPanel(f1, decMotion[r], decBandM[r], false);
  const f2 = frame(394, 593, y0, h, decRange, decTicks, { yLabels: false, xLabels: last });
  meanPanel(f2, decColor[r], decBandC[r], true);
  const eh = 170, ey0 = y0 + h - eh;
  const f3 = frame(712, 912, ey0, eh, normRange, normTicks, { yLabels: true, xLabels: last });
  meanPanel(f3, normMotion[r], normBandM[r], false);
  const f4 = frame(964, 1163, ey0, eh, normRange, normTicks, { yLabels: false, xLabels: last });
  meanPanel(f4, normColor[r], normBandC[r], true);
});

// ---- labels
txt(13, 36, "A", { anchor: "start", size: 24, bold: true, family: "Liberation Sans" });
txt(646, 36, "B", { anchor: "start", size: 24, bold: true, family: "Liberation Sans" });
txt(942, 36, "C", { anchor: "start", size: 24, bold: true, family: "Liberation Sans" });
txt(10, 726, "D", { anchor: "start", size: 24, bold: true, family: "Liberation Sans" });
txt(646, 726, "E", { anchor: "start", size: 24, bold: true, family: "Liberation Sans" });

txt(242, 26, "Model trajectories", { size: 18.8, fill: TXT });
txt(489, 26, "Perturbed model trajectories", { size: 18.8, fill: TXT });
txt(808, 26, "Perturbation effect", { size: 18.8, fill: TXT });
txt(1103, 26, "Perturbation effect norm", { size: 18.8, fill: TXT });
txt(363, 716, "Mean perturbation effect", { size: 18.8, fill: TXT });
txt(936, 716, "Mean perturbation effect norm", { size: 18.8, fill: TXT });
txt(246, 746, "Motion context", { size: 17.8, fill: TXT });
txt(497, 746, "Color context", { size: 17.8, fill: "#0000f0" });
txt(814, 746, "Motion context", { size: 17.8, fill: TXT });
txt(1071, 746, "Color context", { size: 17.8, fill: "#0000f0" });

txt(64, 75, "Best", { size: 14 });
txt(64, 89, "model", { size: 14 });
txt(64, 772, "All 100", { size: 14 });
txt(64, 786, "models", { size: 14 });

const rowParts = [
  [["A,B", false], ["cx", true]],
  [["A", false], ["cx", true], [",B", false]],
  [["A", false], ["cx", true], [",B", false], ["cx", true]]
];
[144, 341, 538].forEach((y, i) => rowLabel(15, y, rowParts[i]));
[847, 1044, 1243].forEach((y, i) => rowLabel(15, y, rowParts[i]));

yLabel(102, 334, "dec");
yLabel(672, 332, "dec");
yLabel(980, 332, "norm");
yLabel(111, 1037, "dec");
yLabel(683, 1037, "norm");

// annotations
txt(483, 58, "Measure along"); txt(483, 72, "dec dim");
txt(865, 58, "Measure along"); txt(865, 72, "dec dim");
txt(1153, 58, "Measure along"); txt(1153, 72, "all dims");
txt(287, 791, "Measure along"); txt(287, 806, "dec dim");
txt(856, 791, "Measure along"); txt(856, 806, "all dims");
txt(410, 96, "Perturb along"); txt(408, 110, "PC 15");

svg.append("defs").append("marker").attr("id", "ah").attr("viewBox", "0 0 10 10")
  .attr("refX", 9).attr("refY", 5).attr("markerWidth", 7).attr("markerHeight", 7)
  .attr("orient", "auto").append("path").attr("d", "M0,0L10,5L0,10z").attr("fill", "#000");
svg.append("line").attr("x1", 406).attr("y1", 116).attr("x2", 393).attr("y2", 148)
  .attr("stroke", "#000").attr("stroke-width", 1.4).attr("marker-end", "url(#ah)");

// legends
legendLine(716, 738, 66, "#000", 2.6); txt(741, 71, "PC 15", { anchor: "start" });
legendLine(716, 738, 82, "#9a9a9a", 1); txt(741, 87, "PCs 1\u201320", { anchor: "start" });
legendLine(1010, 1032, 67, "#000", 2.6); txt(1034, 72, "PC 15", { anchor: "start" });
legendLine(1010, 1032, 83, "#9a9a9a", 1); txt(1034, 88, "PCs 1\u201320", { anchor: "start" });
legendLine(152, 172, 772, "#9a9a9a", 1); txt(176, 777, "PCs 1\u201320", { anchor: "start" });
legendLine(397, 417, 772, "#9a9ae6", 1); txt(422, 777, "PCs 1\u201320", { anchor: "start" });
legendLine(720, 742, 768, "#9a9a9a", 1); txt(746, 773, "PCs 1\u201320", { anchor: "start" });
legendLine(968, 990, 768, "#9a9ae6", 1); txt(996, 773, "PCs 1\u201320", { anchor: "start" });
</script>
</body>
</html>
